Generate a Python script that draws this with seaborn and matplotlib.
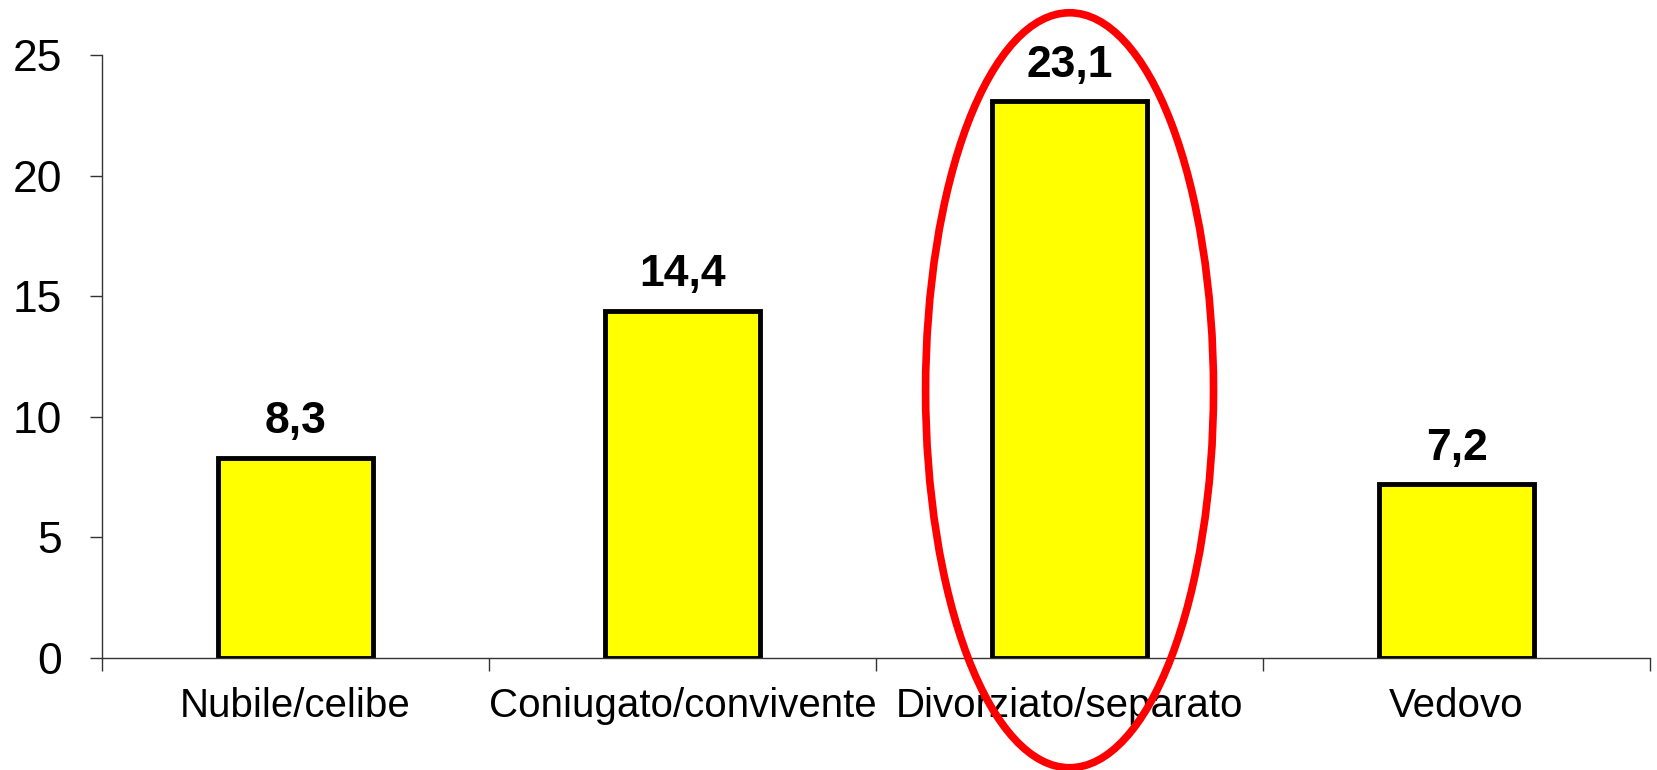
import matplotlib
matplotlib.use("Agg")
import matplotlib.pyplot as plt
import seaborn as sns
import pandas as pd
from matplotlib.patches import Ellipse
from matplotlib.ticker import FixedLocator

categories = ["Nubile/celibe", "Coniugato/convivente", "Divorziato/separato", "Vedovo"]
values = [8.3, 14.4, 23.1, 7.2]
value_labels = ["8,3", "14,4", "23,1", "7,2"]
yticks = [0, 5, 10, 15, 20, 25]

df = pd.DataFrame({"cat": categories, "val": values})

sns.set_style("white")
plt.rcParams["font.family"] = ["Liberation Sans", "DejaVu Sans"]
plt.rcParams["text.color"] = "black"
plt.rcParams["xtick.color"] = "black"
plt.rcParams["ytick.color"] = "black"

fig = plt.figure(figsize=(16.57, 7.70), dpi=100)
ax = fig.add_axes([0.0616, 0.1455, 0.9342, 0.7831])

sns.barplot(data=df, x="cat", y="val", color="#FFFF00", saturation=1,
            edgecolor="black", linewidth=3.5, width=0.4, ax=ax)

for i, (v, lab) in enumerate(zip(values, value_labels)):
    ax.annotate(lab, (i, v), xytext=(0, 11), textcoords="offset points",
                ha="center", va="bottom", fontsize=32, fontweight="bold", color="black")

ax.set_xlim(-0.5, len(categories) - 0.5)
ax.set_ylim(0, 25)
ax.set_yticks(yticks)
ax.set_yticklabels([str(t) for t in yticks], fontsize=32)
ax.set_xlabel("")
ax.set_ylabel("")

ax.xaxis.set_minor_locator(FixedLocator([i - 0.5 for i in range(len(categories) + 1)]))
ax.tick_params(axis="x", which="major", length=0, pad=21, labelsize=29, labelcolor="black")
ax.tick_params(axis="x", which="minor", length=9, width=1, color="#333333", direction="out", bottom=True)
ax.tick_params(axis="y", which="major", length=9, width=1, color="#333333", direction="out", left=True,
               pad=20, labelcolor="black")

for s in ["top", "right"]:
    ax.spines[s].set_visible(False)
for s in ["left", "bottom"]:
    ax.spines[s].set_color("#333333")
    ax.spines[s].set_linewidth(1)

ell = Ellipse((2.0, 11.1), width=0.744, height=31.3, fill=False,
              edgecolor="#FF0000", linewidth=5.5, clip_on=False, zorder=5)
ax.add_patch(ell)

fig.savefig("out.png", dpi=100)
